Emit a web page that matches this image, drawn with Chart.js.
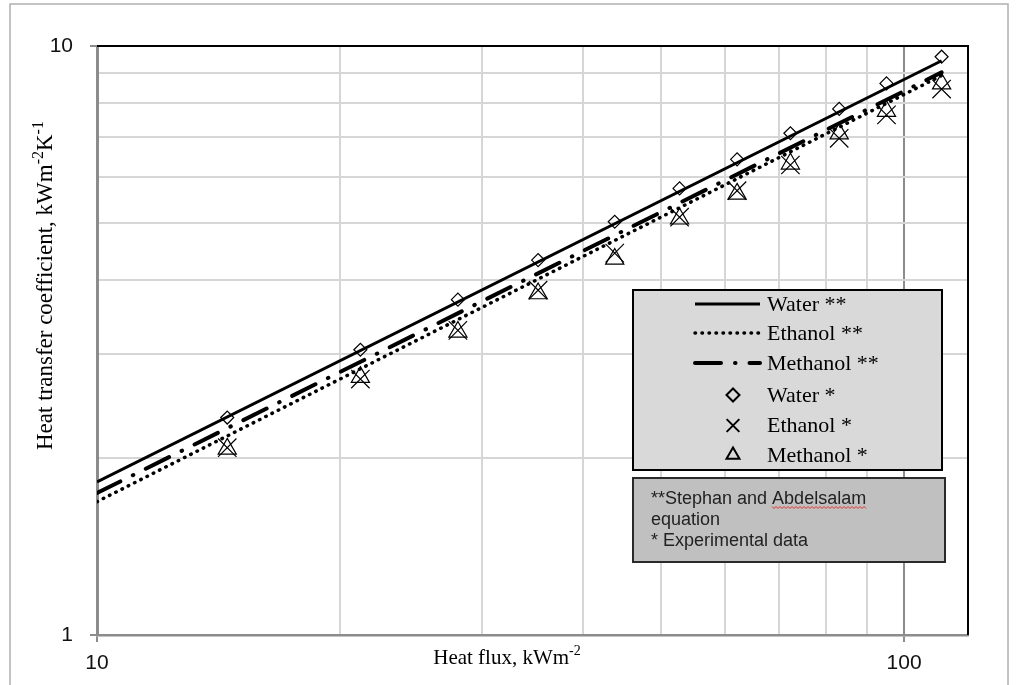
<!DOCTYPE html>
<html><head><meta charset="utf-8">
<script src="https://cdn.jsdelivr.net/npm/chart.js@4.4.0/dist/chart.umd.min.js"></script>
<style>html,body{margin:0;padding:0;background:#fff;overflow:hidden}#wrap{position:relative;width:1018px;height:685px}</style>
</head><body><div id="wrap"><canvas id="c" width="1018" height="685"></canvas></div>
<script>
// ---- data ----
const heatFlux    = [14.5, 21.2, 28.0, 35.2, 43.8, 52.7, 62.1, 72.3, 83.1, 95.1, 111.3];
const waterExp    = [2.34, 3.05, 3.71, 4.33, 5.03, 5.73, 6.42, 7.11, 7.82, 8.64, 9.59];
const ethanolExp  = [2.08, 2.72, 3.29, 3.85, 4.45, 5.12, 5.68, 6.28, 6.97, 7.64, 8.45];
const methanolExp = [2.07, 2.74, 3.27, 3.80, 4.35, 5.09, 5.61, 6.31, 7.10, 7.75, 8.63];
const eqFlux      = [10, 111.3];
const waterEq     = [1.82, 9.44];
const ethanolEq   = [1.684, 8.91];
const methanolEq  = [1.742, 9.02];
const xTickValues = [10, 20, 30, 40, 50, 60, 70, 80, 90, 100];
const yTickValues = [1, 2, 3, 4, 5, 6, 7, 8, 9, 10];
const xTickLabels = {10: '10', 100: '100'};
const yTickLabels = {1: '1', 10: '10'};
const seriesLabels = ['Water **', 'Ethanol **', 'Methanol **', 'Water *', 'Ethanol *', 'Methanol *'];
const xTitle = ['Heat flux, kWm', '-2'];
const yTitle = ['Heat transfer coefficient, kWm', '-2', 'K', '-1'];
const noteLines = ['**Stephan and Abdelsalam', 'equation', '* Experimental data'];

const pts = (xs, ys) => xs.map((x, i) => ({x: x, y: ys[i]}));
const SERIF = '"Liberation Serif", "Times New Roman", serif';
const SANS = '"Liberation Sans", Arial, sans-serif';

const lineDs = (label, xs, ys, dash, width, cap) => ({
  label, data: pts(xs, ys), showLine: true, borderColor: '#000', borderWidth: width,
  borderDash: dash, borderCapStyle: cap, pointRadius: 0, pointHoverRadius: 0, fill: false, tension: 0
});
const markDs = (label, ys, style, r) => ({
  label, data: pts(heatFlux, ys), showLine: false, pointStyle: style, pointRadius: r,
  pointHoverRadius: r, pointBorderColor: '#000', pointBackgroundColor: 'rgba(0,0,0,0)', pointBorderWidth: 1.2
});

const datasets = [
  lineDs(seriesLabels[0], eqFlux, waterEq, [], 3, 'butt'),
  lineDs(seriesLabels[1], eqFlux, ethanolEq, [0.5, 6.5], 3.5, 'round'),
  lineDs(seriesLabels[2], eqFlux, methanolEq, [26, 14, 0.5, 14], 4, 'round'),
  markDs(seriesLabels[3], waterExp, 'rectRot', 6.5),
  markDs(seriesLabels[4], ethanolExp, 'crossRot', 13),
  markDs(seriesLabels[5], methanolExp, 'triangle', 10.5)
];

const decor = {
  id: 'decor',
  afterDraw(chart) {
    const ctx = chart.ctx, a = chart.chartArea;
    ctx.save();
    // top and right plot borders
    ctx.strokeStyle = '#000'; ctx.lineWidth = 2; ctx.setLineDash([]);
    ctx.beginPath();
    ctx.moveTo(a.left, a.top); ctx.lineTo(a.right, a.top); ctx.lineTo(a.right, a.bottom);
    ctx.stroke();

    // x axis title
    ctx.fillStyle = '#000';
    ctx.textBaseline = 'alphabetic';
    ctx.font = '21px ' + SERIF;
    const w0 = ctx.measureText(xTitle[0]).width;
    ctx.font = '14px ' + SERIF;
    const w1 = ctx.measureText(xTitle[1]).width;
    let sx = 507 - (w0 + w1) / 2;
    ctx.font = '21px ' + SERIF; ctx.textAlign = 'left';
    ctx.fillText(xTitle[0], sx, 664);
    ctx.font = '14px ' + SERIF;
    ctx.fillText(xTitle[1], sx + w0, 655);

    // y axis title (rotated)
    ctx.save();
    ctx.translate(52, 450);
    ctx.rotate(-Math.PI / 2);
    let px = 0;
    yTitle.forEach((t, i) => {
      const sup = i % 2 === 1;
      ctx.font = (sup ? '16px ' : '23px ') + SERIF;
      ctx.fillText(t, px, sup ? -9 : 0);
      px += ctx.measureText(t).width;
    });
    ctx.restore();

    // legend box
    const L = {x: 633, y: 290, w: 309, h: 180};
    ctx.fillStyle = '#d9d9d9';
    ctx.fillRect(L.x, L.y, L.w, L.h);
    ctx.strokeStyle = '#000'; ctx.lineWidth = 2;
    ctx.strokeRect(L.x, L.y, L.w, L.h);
    const rowY = [304, 333, 363, 395, 425.5, 455];
    const legR = [0, 0, 0, 6.5, 9, 7.5];
    chart.data.datasets.forEach((ds, i) => {
      const y = rowY[i];
      ctx.save();
      if (ds.showLine) {
        ctx.strokeStyle = ds.borderColor; ctx.lineWidth = ds.borderWidth;
        ctx.setLineDash(ds.borderDash); ctx.lineCap = ds.borderCapStyle;
        ctx.beginPath(); ctx.moveTo(695, y); ctx.lineTo(760, y); ctx.stroke();
      } else {
        ctx.strokeStyle = '#000'; ctx.fillStyle = 'rgba(0,0,0,0)'; ctx.setLineDash([]);
        Chart.helpers.drawPoint(ctx, {pointStyle: ds.pointStyle, rotation: 0, radius: legR[i], borderWidth: 1.2}, 733, y);
      }
      ctx.restore();
      ctx.fillStyle = '#000'; ctx.font = '22px ' + SERIF;
      ctx.textAlign = 'left'; ctx.textBaseline = 'middle';
      ctx.fillText(ds.label, 767, y + 1);
    });

    // note box
    ctx.fillStyle = '#c0c0c0';
    ctx.fillRect(633, 478, 312, 84);
    ctx.strokeStyle = '#2a2a2a'; ctx.lineWidth = 2;
    ctx.strokeRect(633, 478, 312, 84);
    ctx.fillStyle = '#222'; ctx.font = '18px ' + SANS;
    ctx.textBaseline = 'alphabetic'; ctx.textAlign = 'left';
    const noteY = [504, 525, 546];
    noteLines.forEach((t, i) => ctx.fillText(t, 651, noteY[i]));
    // spell-check squiggle under last word of first line
    const pre = noteLines[0].slice(0, noteLines[0].lastIndexOf(' ') + 1);
    const wx0 = 651 + ctx.measureText(pre).width;
    const wx1 = 651 + ctx.measureText(noteLines[0]).width;
    ctx.strokeStyle = '#e03030'; ctx.lineWidth = 1;
    ctx.beginPath();
    for (let xx = wx0, k = 0; xx <= wx1; xx += 2, k++) {
      const yy = 507 + (k % 2 ? 1.5 : -0.5);
      if (k === 0) ctx.moveTo(xx, yy); else ctx.lineTo(xx, yy);
    }
    ctx.stroke();

    // outer frame
    ctx.strokeStyle = '#b0b0b0'; ctx.lineWidth = 1.5;
    ctx.strokeRect(10, 4, 998, 700);
    ctx.restore();
  }
};

new Chart(document.getElementById('c'), {
  type: 'scatter',
  data: {datasets},
  options: {
    responsive: false, animation: false, devicePixelRatio: 1,
    layout: {padding: {top: 46, right: 50, bottom: 0, left: 0}},
    plugins: {legend: {display: false}, tooltip: {enabled: false}},
    scales: {
      x: {
        type: 'logarithmic', min: 10, max: 120,
        afterBuildTicks: s => { s.ticks = xTickValues.map(v => ({value: v})); },
        afterFit: s => { s.height = 50; },
        ticks: {autoSkip: false, maxRotation: 0, minRotation: 0, padding: 9, color: '#111',
          font: {family: SANS, size: 21}, callback: v => xTickLabels[v] || ''},
        grid: {lineWidth: 2, tickLength: 7,
          color: c => (c.tick && c.tick.value === 100) ? '#8c8c8c' : '#d6d6d6',
          tickColor: c => (c.tick && (c.tick.value === 10 || c.tick.value === 100)) ? '#8c8c8c' : 'rgba(0,0,0,0)'},
        border: {color: '#8c8c8c', width: 2.5},
        title: {display: false}
      },
      y: {
        type: 'logarithmic', min: 1, max: 10,
        afterBuildTicks: s => { s.ticks = yTickValues.map(v => ({value: v})); },
        afterFit: s => { s.width = 97; },
        ticks: {autoSkip: false, padding: 17, color: '#111',
          font: {family: SANS, size: 21}, callback: v => yTickLabels[v] || ''},
        grid: {lineWidth: 2, tickLength: 7, color: '#d6d6d6',
          tickColor: c => (c.tick && (c.tick.value === 1 || c.tick.value === 10)) ? '#8c8c8c' : 'rgba(0,0,0,0)'},
        border: {color: '#8c8c8c', width: 3},
        title: {display: false}
      }
    }
  },
  plugins: [decor]
});
</script></body></html>
